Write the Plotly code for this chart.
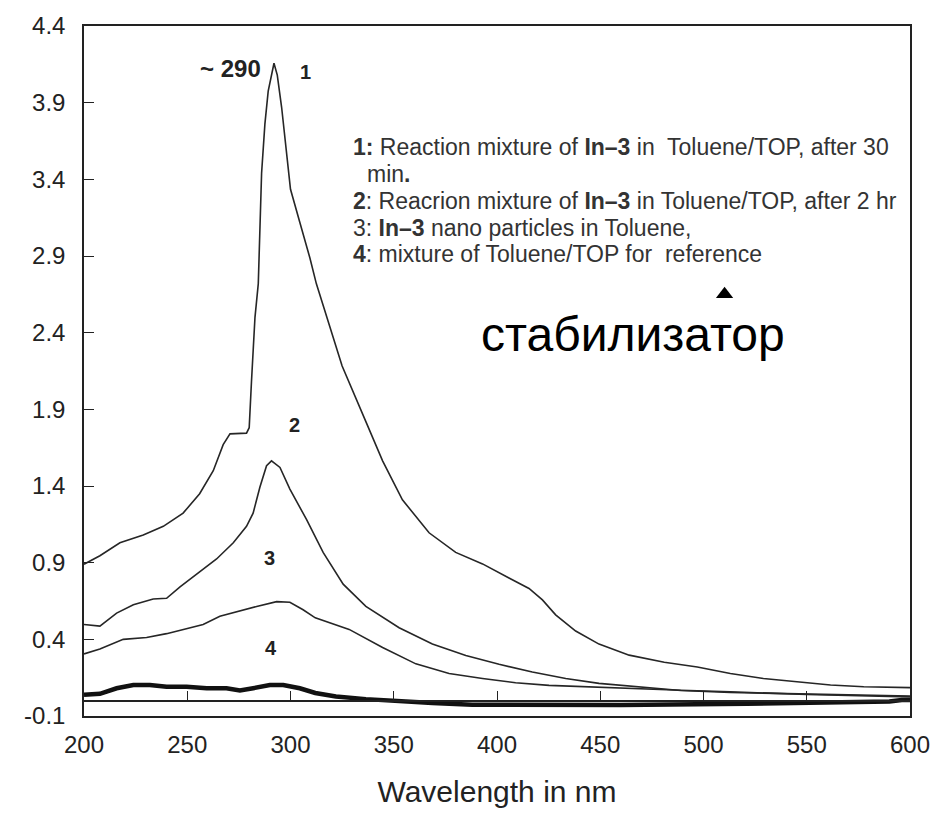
import plotly.graph_objects as go

# ---------------- data ----------------
wl1 = [200, 207.7, 217.4, 228.7, 238.4, 248, 256, 262.6, 267.4, 270.7, 278.7, 280, 281.1, 282.8,
       284.4, 285, 286, 287.6, 289.2, 292, 293.6, 295.7, 298.1, 300, 304.5, 309.4, 312.5, 325,
       336.5, 344.6, 354.2, 367.1, 380, 393, 405.8, 415.5, 422, 428.4, 438.1, 449.4, 464, 481,
       497, 513, 529, 545, 561.5, 577.6, 600]
abs1 = [0.89, 0.945, 1.03, 1.08, 1.137, 1.223, 1.35, 1.50, 1.67, 1.74, 1.745, 1.78, 2.08, 2.50,
        2.72, 3.02, 3.44, 3.76, 3.975, 4.157, 4.08, 3.87, 3.55, 3.335, 3.12, 2.887, 2.72, 2.183,
        1.82, 1.564, 1.31, 1.095, 0.967, 0.892, 0.80, 0.732, 0.657, 0.56, 0.454, 0.369, 0.297, 0.251,
        0.22, 0.177, 0.145, 0.124, 0.102, 0.091, 0.085]

wl2 = [200, 207.7, 215.8, 223.9, 233.5, 240, 246.5, 251.3, 258, 264.2, 272.3, 278.7, 281.9, 285.2,
       288.4, 290.8, 294.9, 299.7, 307.8, 315.8, 325.5, 336.5, 352.6, 368.7, 384.9, 401, 417.1,
       433.3, 449.4, 464, 489, 513, 545, 589, 600]
abs2 = [0.497, 0.486, 0.571, 0.625, 0.663, 0.668, 0.742, 0.79, 0.86, 0.924, 1.03, 1.137, 1.223, 1.393,
        1.532, 1.564, 1.521, 1.38, 1.18, 0.967, 0.76, 0.615, 0.476, 0.369, 0.294, 0.237, 0.187,
        0.145, 0.113, 0.096, 0.066, 0.053, 0.045, 0.032, 0.03]

wl3 = [200, 207.7, 219, 230.3, 240, 249.7, 257.7, 265.8, 275.5, 283.6, 293.3, 299.7, 306.1, 312,
       328.4, 344.6, 360.7, 376.8, 393, 409, 425.2, 441.3, 464, 489, 513, 550, 600]
abs3 = [0.305, 0.337, 0.40, 0.412, 0.437, 0.471, 0.497, 0.55, 0.586, 0.614, 0.646, 0.642, 0.593, 0.54,
        0.465, 0.347, 0.24, 0.177, 0.145, 0.117, 0.10, 0.091, 0.08, 0.068, 0.058, 0.04, 0.025]

wl4 = [200, 207.7, 215.8, 223.9, 231.9, 240, 249.7, 259.4, 269, 275.5, 281.9, 290, 296.5, 304.5,
       312, 322, 336.5, 352.6, 368.7, 388, 420, 460, 521, 560, 590, 596, 600]
abs4 = [0.038, 0.045, 0.081, 0.102, 0.102, 0.091, 0.091, 0.081, 0.081, 0.066, 0.081, 0.102, 0.102, 0.081,
        0.05, 0.027, 0.01, -0.004, -0.015, -0.026, -0.028, -0.028, -0.02, -0.01, -0.005, 0.005, 0.005]

x_ticks = [200, 250, 300, 350, 400, 450, 500, 550, 600]
y_ticks = [-0.1, 0.4, 0.9, 1.4, 1.9, 2.4, 2.9, 3.4, 3.9, 4.4]
y_ticktext = ["-0.1", "0.4", "0.9", "1.4", "1.9", "2.4", "2.9", "3.4", "3.9", "4.4"]
zero_ticks = [250, 300, 350, 400, 450, 500, 550]

curve_labels = ["1", "2", "3", "4"]
curve_label_x = [307.4, 302.1, 290.0, 290.7]
curve_label_y = [4.10, 1.80, 0.93, 0.345]

legend_lines = [
    "<b>1:</b> Reaction mixture of <b>In–3</b> in  Toluene/TOP, after 30",
    "min<b>.</b>",
    "<b>2</b>: Reacrion mixture of <b>In–3</b> in Toluene/TOP, after 2 hr",
    "3: <b>In–3</b> nano particles in Toluene,",
    "<b>4</b>: mixture of Toluene/TOP for  reference",
]
legend_x = [329.2, 336.0, 329.2, 329.2, 329.2]
legend_y = [3.61, 3.436, 3.256, 3.084, 2.911]

peak_text = "~ 290"
peak_x, peak_y = 286.6, 4.12
marker_x = [510.2]
marker_y = [2.650]
stab_text = "стабилизатор"
stab_x, stab_y = 465.7, 2.39

# ---------------- figure ----------------
FONT = "Liberation Sans, Arial, sans-serif"
fig = go.Figure()
line_col = "#262626"
for wl, ab in [(wl1, abs1), (wl2, abs2), (wl3, abs3)]:
    fig.add_trace(go.Scatter(x=wl, y=ab, mode="lines", line=dict(color=line_col, width=1.6),
                             showlegend=False, hoverinfo="skip"))
fig.add_trace(go.Scatter(x=wl4, y=abs4, mode="lines", line=dict(color="#111111", width=4.5),
                         xaxis="x2", showlegend=False, hoverinfo="skip"))
fig.add_trace(go.Scatter(x=marker_x, y=marker_y, mode="markers",
                         marker=dict(symbol="triangle-up", size=15, color="black"),
                         showlegend=False, hoverinfo="skip"))

annotations = []
for t, x, y in zip(curve_labels, curve_label_x, curve_label_y):
    annotations.append(dict(x=x, y=y, text="<b>%s</b>" % t, showarrow=False,
                            font=dict(family=FONT, size=20, color="#222")))
for t, x, y in zip(legend_lines, legend_x, legend_y):
    annotations.append(dict(x=x, y=y, text=t, showarrow=False, xanchor="left",
                            font=dict(family=FONT, size=23, color="#333")))
annotations.append(dict(x=peak_x, y=peak_y, text="<b>%s</b>" % peak_text, showarrow=False,
                        xanchor="right", font=dict(family=FONT, size=24, color="#222")))
annotations.append(dict(x=stab_x, y=stab_y, text=stab_text, showarrow=False,
                        font=dict(family=FONT, size=48, color="black")))

fig.update_layout(
    width=947, height=815,
    margin=dict(l=84, r=37, t=17, b=95),
    paper_bgcolor="white", plot_bgcolor="white",
    font=dict(family=FONT, color="#222"),
    annotations=annotations,
    xaxis=dict(range=[200, 600], tickvals=x_ticks, ticks="", showline=True, mirror=True,
               linecolor="#222", linewidth=1.5, showgrid=False, zeroline=False,
               tickfont=dict(size=24, color="#222"), ticklabelstandoff=6,
               title=dict(text="Wavelength in nm", font=dict(size=30, color="#222"), standoff=24)),
    xaxis2=dict(range=[200, 600], overlaying="x", matches="x", anchor="free",
                position=0.1 / 4.5, side="bottom", tickvals=zero_ticks, ticks="inside",
                ticklen=9, tickwidth=1.3, tickcolor="#222", showline=True, linecolor="#222",
                linewidth=1.5, showticklabels=False, showgrid=False, zeroline=False),
    yaxis=dict(range=[-0.1, 4.4], tickvals=y_ticks, ticktext=y_ticktext, ticks="inside",
               ticklen=10, tickwidth=1.3, tickcolor="#222", showline=True, mirror=True,
               linecolor="#222", linewidth=1.5, showgrid=False, zeroline=False,
               tickfont=dict(size=24, color="#222"), ticklabelstandoff=12),
)

fig.write_html("out.html")
